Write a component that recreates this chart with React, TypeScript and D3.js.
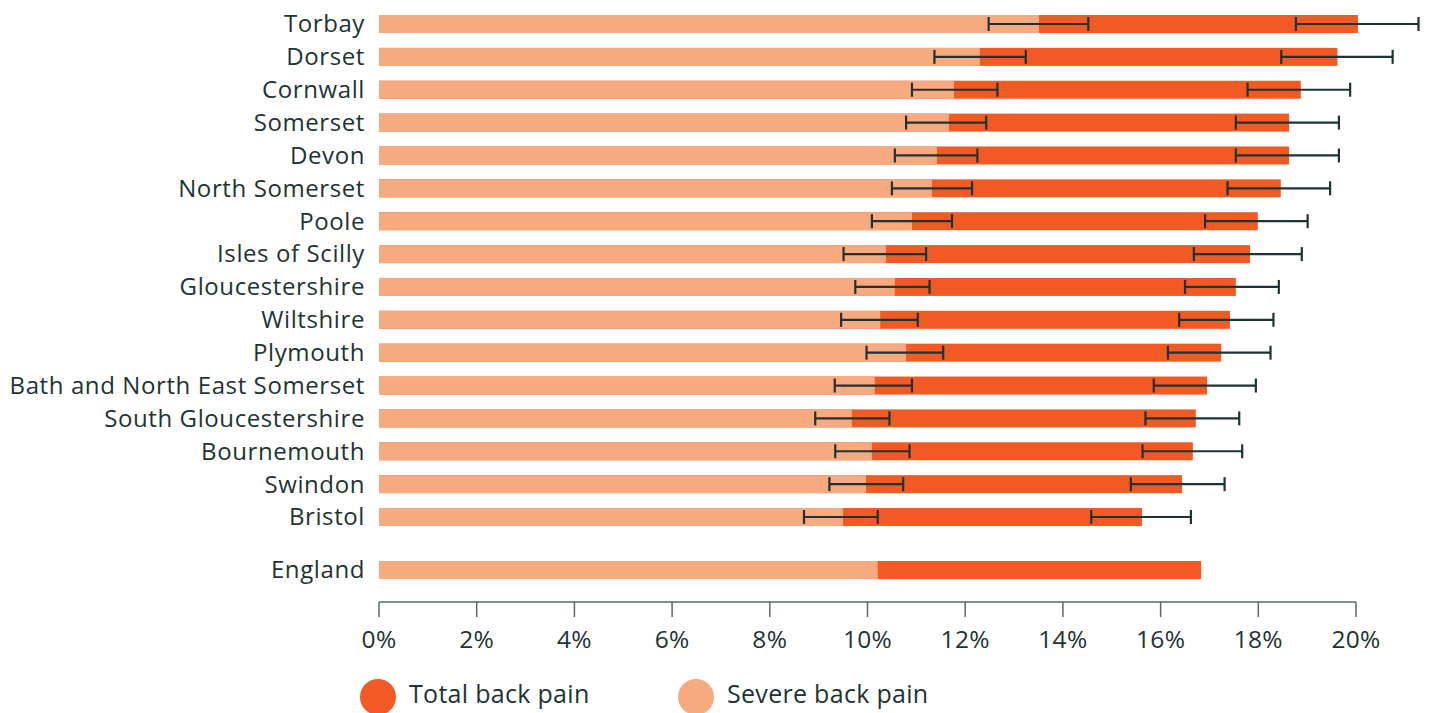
import React from 'react';
import * as d3 from 'd3';

const regions = [
  'Torbay', 'Dorset', 'Cornwall', 'Somerset', 'Devon', 'North Somerset', 'Poole',
  'Isles of Scilly', 'Gloucestershire', 'Wiltshire', 'Plymouth',
  'Bath and North East Somerset', 'South Gloucestershire', 'Bournemouth', 'Swindon', 'Bristol',
];

// values in %
const totalPain = [20.04, 19.62, 18.87, 18.63, 18.63, 18.46, 17.99, 17.83, 17.54, 17.42, 17.24, 16.95, 16.72, 16.66, 16.44, 15.62];
const totalLow = [18.77, 18.47, 17.78, 17.54, 17.54, 17.37, 16.91, 16.68, 16.5, 16.38, 16.15, 15.86, 15.69, 15.63, 15.39, 14.58];
const totalHigh = [21.28, 20.75, 19.88, 19.65, 19.65, 19.47, 19.01, 18.89, 18.42, 18.31, 18.25, 17.95, 17.61, 17.67, 17.31, 16.62];

const severePain = [13.51, 12.3, 11.77, 11.67, 11.42, 11.32, 10.91, 10.38, 10.56, 10.26, 10.79, 10.15, 9.68, 10.09, 9.97, 9.5];
const severeLow = [12.48, 11.37, 10.91, 10.79, 10.56, 10.5, 10.09, 9.51, 9.75, 9.46, 9.98, 9.33, 8.93, 9.34, 9.22, 8.7];
const severeHigh = [14.52, 13.24, 12.66, 12.43, 12.25, 12.14, 11.73, 11.2, 11.27, 11.03, 11.55, 10.91, 10.45, 10.86, 10.73, 10.21];

const englandTotal = 16.83;
const englandSevere = 10.21;

const xTicks = [0, 2, 4, 6, 8, 10, 12, 14, 16, 18, 20];

const TOTAL_COLOR = '#f15a22';
const SEVERE_COLOR = '#f7a97f';
const INK = '#1e3333';
const FONT = '"Open Sans", sans-serif';

const W = 1429;
const H = 713;
const left = 379;
const right = 1356;
const barH = 18;
const axisY = 602;

const App = () => {
  const x = d3.scaleLinear().domain([0, 20]).range([left, right]);
  // row index -> vertical centre; England sits a bit further down
  const y = d3.scaleLinear().domain([0, 15]).range([24, 517]);
  const englandY = 570;

  const errBar = (lo: number, hi: number, cy: number, key: string) => (
    <g key={key} stroke={INK} strokeWidth={2.2}>
      <line x1={x(lo)} x2={x(hi)} y1={cy} y2={cy} />
      <line x1={x(lo)} x2={x(lo)} y1={cy - 7} y2={cy + 7} />
      <line x1={x(hi)} x2={x(hi)} y1={cy - 7} y2={cy + 7} />
    </g>
  );

  const labelProps = {
    x: 365, dy: '0.35em', textAnchor: 'end' as const, fontFamily: FONT,
    fontSize: 24, letterSpacing: 0.6, fill: INK,
  };

  return (
    <svg width={W} height={H} style={{ position: 'absolute', left: 0, top: 0, background: '#fff' }}>
      {regions.map((r, i) => {
        const cy = y(i);
        return (
          <g key={r}>
            <text {...labelProps} y={cy}>{r}</text>
            <rect x={x(0)} y={cy - barH / 2} width={x(totalPain[i]) - x(0)} height={barH} fill={TOTAL_COLOR} />
            <rect x={x(0)} y={cy - barH / 2} width={x(severePain[i]) - x(0)} height={barH} fill={SEVERE_COLOR} />
            {errBar(severeLow[i], severeHigh[i], cy, 's')}
            {errBar(totalLow[i], totalHigh[i], cy, 't')}
          </g>
        );
      })}

      <g>
        <text {...labelProps} y={englandY}>England</text>
        <rect x={x(0)} y={englandY - barH / 2} width={x(englandTotal) - x(0)} height={barH} fill={TOTAL_COLOR} />
        <rect x={x(0)} y={englandY - barH / 2} width={x(englandSevere) - x(0)} height={barH} fill={SEVERE_COLOR} />
      </g>

      <g>
        <line x1={x(0)} x2={x(20)} y1={axisY} y2={axisY} stroke="#5a6a6a" strokeWidth={1.5} />
        {xTicks.map((t) => (
          <g key={t}>
            <line x1={x(t)} x2={x(t)} y1={axisY} y2={axisY + 15} stroke="#5a6a6a" strokeWidth={1.5} />
            <text x={x(t)} y={648} textAnchor="middle" fontFamily={FONT} fontSize={24.5} letterSpacing={0.3} fill={INK}>{t}%</text>
          </g>
        ))}
      </g>

      <g fontFamily={FONT} fontSize={25} letterSpacing={0.3} fill={INK}>
        <circle cx={378} cy={697} r={18} fill={TOTAL_COLOR} />
        <text x={409} y={694} dy="0.35em">Total back pain</text>
        <circle cx={696} cy={697} r={18} fill={SEVERE_COLOR} />
        <text x={727} y={694} dy="0.35em">Severe back pain</text>
      </g>
    </svg>
  );
};

export default App;
